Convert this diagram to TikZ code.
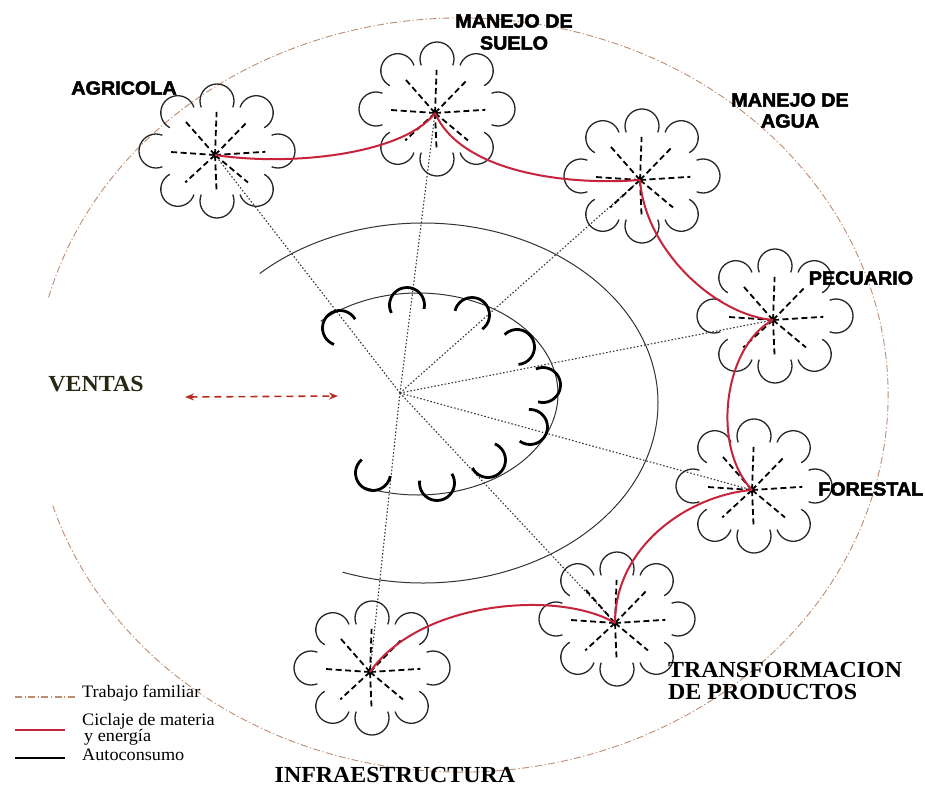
\documentclass[tikz,border=0pt]{standalone}
\usepackage{fontspec}
\setmainfont{Liberation Serif}
\newfontfamily\lblsans[FakeStretch=1.04,BoldFeatures={FakeBold=2.5}]{Liberation Sans}
\newfontfamily\lblserif[FakeStretch=1.04]{Liberation Serif}
\usetikzlibrary{arrows.meta}
\definecolor{trabajocol}{RGB}{190,140,112}
\definecolor{ciclocol}{RGB}{198,36,58}
\definecolor{ventacol}{RGB}{180,45,30}
\definecolor{ventastext}{RGB}{40,40,20}
\tikzset{
  trabajo/.style={draw=trabajocol, line width=0.9pt, dash pattern=on 7pt off 2.5pt on 1.2pt off 2.5pt},
  ciclo/.style={draw=ciclocol, line width=2pt},
  radial/.style={draw=black!80, line width=1.1pt, dash pattern=on 1.5pt off 2pt},
  ring/.style={draw=black!80, line width=1pt},
  autoc/.style={draw=black, line width=2.8pt},
  petal/.style={draw=black!85, line width=1.3pt},
  fspoke/.style={draw=black, line width=1.8pt, dash pattern=on 6pt off 3.5pt},
  sanslbl/.style={font=\lblsans\bfseries\fontsize{19}{21}\selectfont, inner sep=0pt, align=center},
  seriflbl/.style={font=\lblserif\bfseries\fontsize{23}{25}\selectfont, inner sep=0pt},
  legtext/.style={font=\lblserif\fontsize{17.5}{14}\selectfont, inner sep=0pt, anchor=west, align=left},
  flower/.pic={
    \foreach \t in {0,50,90,130,180,230,270,310}{
      \pgfmathsetmacro\cx{2+61*cos(\t)}
      \pgfmathsetmacro\cy{4+50*sin(\t)}
      \pgfmathsetmacro\sa{\t-112}
      \pgfmathsetmacro\ea{\t+112}
      \pgfmathsetmacro\sx{0.8*\cx}
      \pgfmathsetmacro\sy{0.8*\cy}
      \draw[petal] (\cx,\cy) ++(\sa:17) arc[start angle=\sa, end angle=\ea, radius=17];
      \draw[fspoke] (0,0) -- (\sx,\sy);
    }
  }
}
\begin{document}
\begin{tikzpicture}[x=1pt,y=1pt]
\useasboundingbox (0,0) rectangle (925,-789);
\fill[white] (0,0) rectangle (925,-789);

% outer family-work ellipse (gap on the left)
\draw[trabajo] (461,-395) ++(165:427 and 377) arc[start angle=165, end angle=-163, x radius=427, y radius=377];

% rings
\draw[ring] (423,-403) ++(134:235 and 180) arc[start angle=134, end angle=-110, x radius=235, y radius=180];
\draw[ring] (418,-394) ++(134:140 and 101) arc[start angle=134, end angle=-113, x radius=140, y radius=101];

% named points
\coordinate (hub) at (400,-393);
\foreach \n/\x/\y in {agr/215/155, suelo/435/113, agua/640/180, pec/773/320, fore/752/490, trans/615/623, infra/370/672}{
  \coordinate (\n) at (\x,-\y);
}

% dotted radial lines
\foreach \n in {agr,suelo,agua,pec,fore,trans,infra}{
  \draw[radial] (hub) -- (\n);
}

% autoconsumo C shapes
\foreach \px/\py/\d in {340/328/140, 407/305/97, 472/315/56, 517/347/25, 543/385/4, 530/427/-16, 488/460/-43, 437/483/-78, 373/473/-120}{
  \pgfmathsetmacro\sa{\d-110}
  \pgfmathsetmacro\ea{\d+110}
  \draw[autoc] (\px,-\py) ++(\sa:17.5) arc[start angle=\sa, end angle=\ea, radius=17.5];
}

% flowers
\foreach \n in {agr,suelo,agua,pec,fore,trans,infra}{
  \pic at (\n) {flower};
}

% cycling of matter and energy
\draw[ciclo] (agr) .. controls (295,-167) and (405,-153) .. (suelo);
\draw[ciclo] (suelo) .. controls (460,-170) and (560,-186) .. (agua);
\draw[ciclo] (agua) .. controls (645,-250) and (715,-315) .. (pec);
\draw[ciclo] (pec) .. controls (725,-345) and (710,-445) .. (fore);
\draw[ciclo] (fore) .. controls (690,-495) and (615,-545) .. (trans);
\draw[ciclo] (trans) .. controls (560,-590) and (420,-600) .. (infra);

% ventas
\node[seriflbl, text=ventastext] (ventas) at (96,-384) {VENTAS};
\coordinate (vl) at (185,-397);
\coordinate (vr) at (338,-396);
\draw[draw=ventacol, line width=1.6pt, dash pattern=on 7pt off 5pt, {Stealth[length=9pt,width=7pt]}-{Stealth[length=9pt,width=7pt]}] (vl) -- (vr);

% labels
\node[sanslbl] (lagr) at (124,-88) {AGRICOLA};
\node[sanslbl] (lsuelo1) at (514,-21) {MANEJO DE};
\node[sanslbl] (lsuelo2) at (514,-43) {SUELO};
\node[sanslbl] (lagua1) at (790,-100) {MANEJO DE};
\node[sanslbl] (lagua2) at (790,-121) {AGUA};
\node[sanslbl] (lpec) at (861,-278) {PECUARIO};
\node[sanslbl, anchor=west] (lfore) at (818,-489) {FORESTAL};
\node[seriflbl, anchor=west] (ltrans1) at (668,-670) {TRANSFORMACION};
\node[seriflbl, anchor=west] (ltrans2) at (668,-692) {DE PRODUCTOS};
\node[seriflbl] (linfra) at (395,-775) {INFRAESTRUCTURA};

% legend
\coordinate (l1a) at (15,-697); \coordinate (l1b) at (75,-697);
\coordinate (l2a) at (15,-730); \coordinate (l2b) at (65,-730);
\coordinate (l3a) at (15,-758); \coordinate (l3b) at (65,-758);
\draw[trabajo, line width=1.2pt] (l1a) -- (l1b);
\draw[ciclo, line width=2.4pt] (l2a) -- (l2b);
\draw[draw=black, line width=2.4pt] (l3a) -- (l3b);
\node[legtext] (t1) at (82,-693) {Trabajo familiar};
\node[legtext] (t2) at (82,-729) {Ciclaje de materia\\[-1pt] \hspace*{2pt}y energía};
\node[legtext] (t4) at (82,-755) {Autoconsumo};
\end{tikzpicture}
\end{document}
